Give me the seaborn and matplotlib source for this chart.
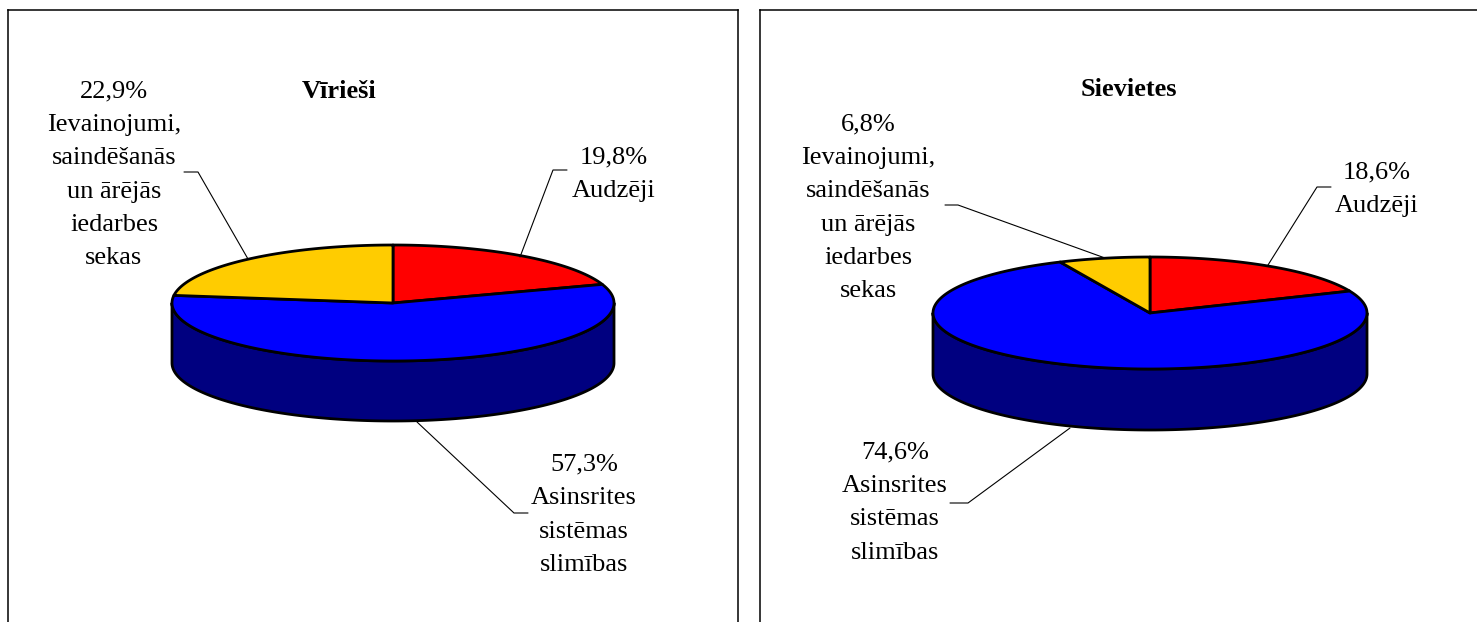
import numpy as np
import matplotlib
matplotlib.use("Agg")
import matplotlib.pyplot as plt
import seaborn as sns

# data
categories = ["Audzēji", "Asinsrites\nsistēmas\nslimības", "Ievainojumi,\nsaindēšanās\nun ārējās\niedarbes\nsekas"]
men_values = [19.8, 57.3, 22.9]
women_values = [18.6, 74.6, 6.8]
titles = ["Vīrieši", "Sievietes"]
top_colors = ["#FF0000", "#0000FF", "#FFCC00"]
side_colors = ["#800000", "#000080", "#806600"]

sns.set_theme(style="white")
plt.rcParams["font.family"] = ["Liberation Serif", "DejaVu Serif"]

W, H = 1477, 622
fig = plt.figure(figsize=(W / 100, H / 100), dpi=100, facecolor="white")


def make_panel(x0, x1, y0, y1):
    # panel runs off the bottom of the image, limits are in image pixels
    ax = fig.add_axes([x0 / W, 1 - y1 / H, (x1 - x0) / W, (y1 - y0) / H])
    ax.set_xlim(x0, x1)
    ax.set_ylim(y1, y0)
    ax.set_xticks([])
    ax.set_yticks([])
    for s in ax.spines.values():
        s.set_color("black")
        s.set_linewidth(1.1)
    return ax


def pie3d(ax, values, cx, cy, rx, ry, depth):
    edges = np.cumsum([0] + values) / sum(values) * 2 * np.pi
    lw = 2.0
    # front wall, only the part between 90 and 270 degrees shows
    for i in range(len(values)):
        a = max(edges[i], np.pi / 2)
        b = min(edges[i + 1], 3 * np.pi / 2)
        if b <= a:
            continue
        t = np.linspace(a, b, 200)
        x = cx + rx * np.sin(t)
        y = cy - ry * np.cos(t)
        ax.fill(np.r_[x, x[::-1]], np.r_[y, y[::-1] + depth],
                facecolor=side_colors[i], edgecolor="black", lw=lw, joinstyle="round")
    # top of the pie
    for i in range(len(values)):
        t = np.linspace(edges[i], edges[i + 1], 200)
        x = cx + rx * np.sin(t)
        y = cy - ry * np.cos(t)
        ax.fill(np.r_[cx, x], np.r_[cy, y],
                facecolor=top_colors[i], edgecolor="black", lw=lw, joinstyle="round")


def label(ax, value, name, x, y, line):
    txt = f"{value:.1f}%".replace(".", ",") + "\n" + name
    ax.text(x, y, txt, ha="center", va="center", fontsize=19, color="black", linespacing=1.67, multialignment="center")
    ax.plot(line[0], line[1], color="black", lw=0.8, solid_joinstyle="miter")


ax1 = make_panel(8, 738, 10, 660)
pie3d(ax1, men_values, 393, 303, 221, 58, 60)
ax1.text(339, 91, titles[0], ha="center", va="center", fontsize=19, fontweight="bold", color="black")
label(ax1, men_values[0], categories[0], 614, 174, ([520, 553, 567], [257, 170, 170]))
label(ax1, men_values[1], categories[1], 584, 515, ([417, 514, 528], [422, 513, 513]))
label(ax1, men_values[2], categories[2], 114, 175, ([248, 198, 184], [259, 172, 172]))

ax2 = make_panel(760, 1500, 10, 660)
pie3d(ax2, women_values, 1150, 313, 217, 56, 61)
ax2.text(1129, 89, titles[1], ha="center", va="center", fontsize=19, fontweight="bold", color="black")
label(ax2, women_values[0], categories[0], 1377, 189, ([1268, 1317, 1331], [265, 187, 187]))
label(ax2, women_values[1], categories[1], 895, 502.5, ([1070, 968, 950], [428, 503, 503]))
label(ax2, women_values[2], categories[2], 868, 208, ([1105, 958, 945], [258, 205, 205]))

fig.savefig("out.png", dpi=100, facecolor="white")
